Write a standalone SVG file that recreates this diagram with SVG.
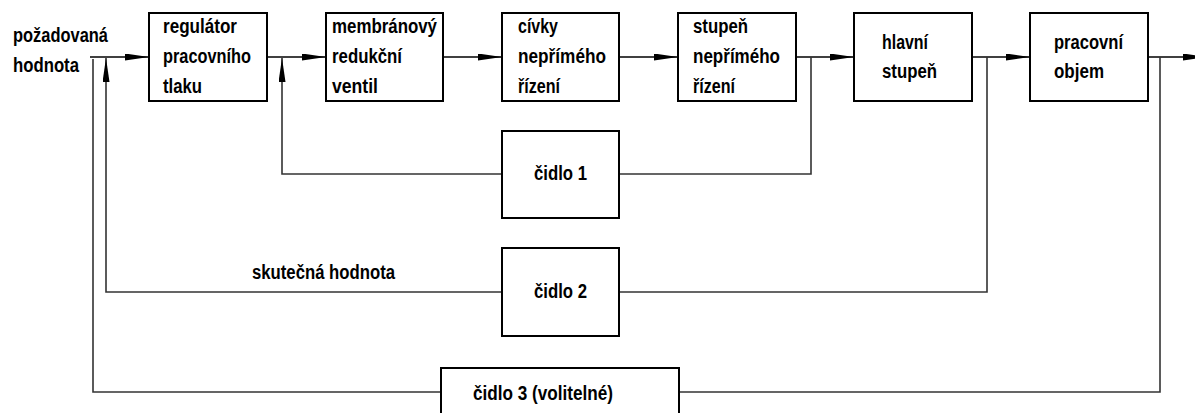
<svg xmlns="http://www.w3.org/2000/svg" width="1195" height="413" viewBox="0 0 1195 413">
<style>
  .box{fill:#fff;stroke:#000;stroke-width:2}
  .t{font-family:"Liberation Sans",Arial,sans-serif;font-weight:bold;font-size:20px;fill:#000}
  .main{fill:none;stroke:#000;stroke-width:1.6}
  .fb{fill:none;stroke:#333;stroke-width:1.6}
</style>
<defs>
  <marker id="arr" markerUnits="userSpaceOnUse" markerWidth="24" markerHeight="8" refX="24" refY="3.5" orient="auto">
    <path d="M0,0 L24,3.5 L0,7 Z" fill="#000"/>
  </marker>
</defs>
<rect width="1195" height="413" fill="#fff"/>
<g id="connectors">
  <line class="main" x1="90" y1="57" x2="149" y2="57" marker-end="url(#arr)"/>
  <line class="main" x1="267" y1="57" x2="326" y2="57" marker-end="url(#arr)"/>
  <line class="main" x1="443" y1="57" x2="502" y2="57" marker-end="url(#arr)"/>
  <line class="main" x1="619" y1="57" x2="678" y2="57" marker-end="url(#arr)"/>
  <line class="main" x1="796" y1="57" x2="854" y2="57" marker-end="url(#arr)"/>
  <line class="main" x1="972" y1="57" x2="1030" y2="57" marker-end="url(#arr)"/>
  <line class="main" x1="1148" y1="57" x2="1207" y2="57" marker-end="url(#arr)"/>
  <polyline class="fb" points="811,57 811,174 619,174"/>
  <polyline class="fb" points="502,174 282,174 282,58" marker-end="url(#arr)"/>
  <polyline class="fb" points="987,57 987,292 619,292"/>
  <polyline class="fb" points="502,292 106,292 106,58" marker-end="url(#arr)"/>
  <polyline class="fb" points="1160,57 1160,392 679,392"/>
  <polyline class="fb" points="441,392 93,392 93,59"/>
</g>
<g id="input-label">
  <text class="t" x="13" y="42" textLength="95" lengthAdjust="spacingAndGlyphs">požadovaná</text>
  <text class="t" x="13" y="72" textLength="66" lengthAdjust="spacingAndGlyphs">hodnota</text>
</g>
<g id="regulator">
  <rect class="box" x="149" y="13" width="118" height="88"/>
  <text class="t" x="163" y="33" textLength="74" lengthAdjust="spacingAndGlyphs">regulátor</text>
  <text class="t" x="163" y="63" textLength="88" lengthAdjust="spacingAndGlyphs">pracovního</text>
  <text class="t" x="163" y="93" textLength="39" lengthAdjust="spacingAndGlyphs">tlaku</text>
</g>
<g id="membranovy">
  <rect class="box" x="326" y="13" width="117" height="88"/>
  <text class="t" x="332" y="33" textLength="105" lengthAdjust="spacingAndGlyphs">membránový</text>
  <text class="t" x="332" y="63" textLength="70" lengthAdjust="spacingAndGlyphs">redukční</text>
  <text class="t" x="332" y="93" textLength="46" lengthAdjust="spacingAndGlyphs">ventil</text>
</g>
<g id="civky">
  <rect class="box" x="502" y="13" width="117" height="88"/>
  <text class="t" x="518" y="33" textLength="40" lengthAdjust="spacingAndGlyphs">cívky</text>
  <text class="t" x="518" y="63" textLength="88" lengthAdjust="spacingAndGlyphs">nepřímého</text>
  <text class="t" x="518" y="93" textLength="42" lengthAdjust="spacingAndGlyphs">řízení</text>
</g>
<g id="stupen">
  <rect class="box" x="678" y="13" width="118" height="88"/>
  <text class="t" x="693" y="33" textLength="55" lengthAdjust="spacingAndGlyphs">stupeň</text>
  <text class="t" x="693" y="63" textLength="87" lengthAdjust="spacingAndGlyphs">nepřímého</text>
  <text class="t" x="693" y="93" textLength="42" lengthAdjust="spacingAndGlyphs">řízení</text>
</g>
<g id="hlavni">
  <rect class="box" x="854" y="13" width="118" height="88"/>
  <text class="t" x="882" y="49" textLength="46" lengthAdjust="spacingAndGlyphs">hlavní</text>
  <text class="t" x="882" y="78" textLength="55" lengthAdjust="spacingAndGlyphs">stupeň</text>
</g>
<g id="objem">
  <rect class="box" x="1030" y="13" width="118" height="88"/>
  <text class="t" x="1054" y="49" textLength="69" lengthAdjust="spacingAndGlyphs">pracovní</text>
  <text class="t" x="1054" y="78" textLength="50" lengthAdjust="spacingAndGlyphs">objem</text>
</g>
<g id="cidlo1">
  <rect class="box" x="502" y="131" width="117" height="87"/>
  <text class="t" x="534" y="180" textLength="53" lengthAdjust="spacingAndGlyphs">čidlo 1</text>
</g>
<g id="cidlo2">
  <rect class="box" x="502" y="248" width="117" height="88"/>
  <text class="t" x="534" y="298" textLength="53" lengthAdjust="spacingAndGlyphs">čidlo 2</text>
</g>
<g id="skutecna">
  <text class="t" x="252" y="279" textLength="143" lengthAdjust="spacingAndGlyphs">skutečná hodnota</text>
</g>
<g id="cidlo3">
  <rect class="box" x="441" y="368" width="238" height="88"/>
  <text class="t" x="473" y="400" textLength="140" lengthAdjust="spacingAndGlyphs">čidlo 3 (volitelné)</text>
</g>
</svg>
